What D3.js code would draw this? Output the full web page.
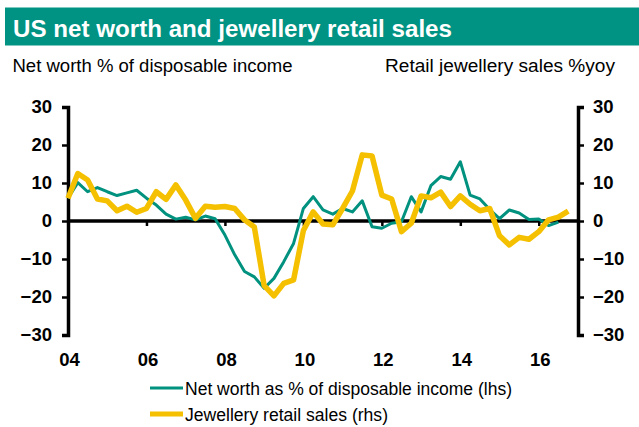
<!DOCTYPE html>
<html>
<head>
<meta charset="utf-8">
<script src="https://cdn.jsdelivr.net/npm/d3@7"></script>
<style>
  html, body { margin: 0; padding: 0; background: #fff; }
  svg { display: block; font-family: Arial, "Liberation Sans", Helvetica, sans-serif; }
</style>
</head>
<body>
<svg id="chart" width="639" height="427"></svg>
<script>
// Quarterly series, first quarter of 2004 onward
const firstYear = 2004;
const netWorth = [
  6.0, 10.1, 7.7, 8.8,
  7.7, 6.7, 7.4, 8.1,
  6.0, 4.2, 1.8, 0.5,
  1.0, 0.3, 1.3, 0.6,
  -3.7, -8.9, -13.3, -14.7,
  -17.7, -15.1, -10.7, -5.9,
  3.3, 6.4, 2.9, 1.8,
  3.3, 2.4, 5.3, -1.5,
  -1.9, -0.6, -0.2, 6.4,
  2.4, 9.3, 11.7, 11.0,
  15.6, 6.8, 5.8, 3.0,
  0.6, 2.9, 2.1, 0.4,
  0.5, -1.2, -0.3
];
const jewellery = [
  6.0, 12.5, 10.8, 5.8,
  5.3, 2.7, 3.9, 2.3,
  3.3, 7.7, 5.7, 9.5,
  5.5, 0.7, 3.9, 3.6,
  3.8, 3.3, 0.3, -1.6,
  -17.0, -19.7, -16.4, -15.5,
  -2.5, 2.4, -0.8, -1.0,
  3.3, 7.9, 17.4, 17.1,
  6.8, 5.8, -2.8, -0.6,
  6.6, 6.1, 7.6, 3.8,
  6.6, 4.4, 2.7, 3.3,
  -3.9, -6.3, -4.3, -4.8,
  -2.8, 0.3, 1.0, 2.6
];
const yTicks = [30, 20, 10, 0, -10, -20, -30];
const xTicks = [2004, 2006, 2008, 2010, 2012, 2014, 2016];
const labels = {
  title: "US net worth and jewellery retail sales",
  leftAxis: "Net worth % of disposable income",
  rightAxis: "Retail jewellery sales %yoy",
  series: ["Net worth as % of disposable income (lhs)", "Jewellery retail sales (rhs)"]
};

const teal = "#00917f";
const gold = "#f4c000";

const svg = d3.select("#chart");

// Header band
svg.append("rect").attr("x", 5).attr("y", 7.5).attr("width", 634).attr("height", 38).attr("fill", "#009383");
svg.append("text").attr("x", 13).attr("y", 36.5).attr("fill", "#fff")
  .attr("font-size", 23).attr("font-weight", "bold")
  .attr("textLength", 439).attr("lengthAdjust", "spacingAndGlyphs").text(labels.title);

svg.append("text").attr("x", 12.5).attr("y", 72).attr("font-size", 17.5).attr("fill", "#000")
  .attr("textLength", 280).attr("lengthAdjust", "spacingAndGlyphs").text(labels.leftAxis);
svg.append("text").attr("x", 385).attr("y", 72).attr("font-size", 17.5).attr("fill", "#000")
  .attr("textLength", 230).attr("lengthAdjust", "spacingAndGlyphs").text(labels.rightAxis);

const x = d3.scaleLinear().domain([2004, 2017]).range([68, 578]);
const yL = d3.scaleLinear().domain([-30, 30]).range([335, 107]);
const yR = d3.scaleLinear().domain([-30, 30]).range([335, 107]);

const tq = i => firstYear + i / 4;

// Left axis
const gL = svg.append("g").attr("transform", `translate(${x(2004)},0)`)
  .call(d3.axisLeft(yL).tickValues(yTicks).tickSize(6).tickPadding(10).tickFormat(d3.format("d")));
// Right axis
const gR = svg.append("g").attr("transform", `translate(${x(2017)},0)`)
  .call(d3.axisRight(yR).tickValues(yTicks).tickSize(6).tickPadding(9).tickFormat(d3.format("d")));
// Zero line with year ticks
const gX = svg.append("g").attr("transform", `translate(0,${yL(0)})`)
  .call(d3.axisBottom(x).tickValues(xTicks).tickSize(5).tickFormat(d => String(d % 100).padStart(2, "0")));

[gL, gR, gX].forEach(g => {
  g.select(".domain").attr("stroke", "#000").attr("stroke-width", 3.5);
  g.selectAll(".tick line").attr("stroke", "#000").attr("stroke-width", 2.5);
  g.selectAll(".tick text").attr("font-size", 18.5).attr("font-weight", "bold").attr("fill", "#000")
    .attr("font-family", "Arial, 'Liberation Sans', sans-serif");
});
gX.select(".domain").attr("d", `M${x(2004)},0H${x(2017)}`);
gX.selectAll(".tick text").attr("y", 0).attr("dy", 0)
  .attr("transform", `translate(1,${365.5 - yL(0)})`);
gX.selectAll(".tick").filter(d => d === 2004).select("line").remove();

// Series lines
const lineL = d3.line().x((d, i) => x(tq(i))).y(d => yL(d));
const lineR = d3.line().x((d, i) => x(tq(i))).y(d => yR(d));

svg.append("path").datum(netWorth).attr("d", lineL)
  .attr("fill", "none").attr("stroke", teal).attr("stroke-width", 3).attr("stroke-linejoin", "round");
svg.append("path").datum(jewellery).attr("d", lineR)
  .attr("fill", "none").attr("stroke", gold).attr("stroke-width", 5.5).attr("stroke-linejoin", "round");

// Legend
const legend = svg.append("g");
[{c: teal, w: 3, t: labels.series[0], y: 388, len: 327}, {c: gold, w: 5, t: labels.series[1], y: 414, len: 203}].forEach(s => {
  legend.append("line").attr("x1", 150).attr("x2", 183).attr("y1", s.y).attr("y2", s.y)
    .attr("stroke", s.c).attr("stroke-width", s.w);
  legend.append("text").attr("x", 185).attr("y", s.y + 6.5).attr("font-size", 17.5).attr("fill", "#000")
    .attr("textLength", s.len).attr("lengthAdjust", "spacingAndGlyphs").text(s.t);
});
</script>
</body>
</html>
